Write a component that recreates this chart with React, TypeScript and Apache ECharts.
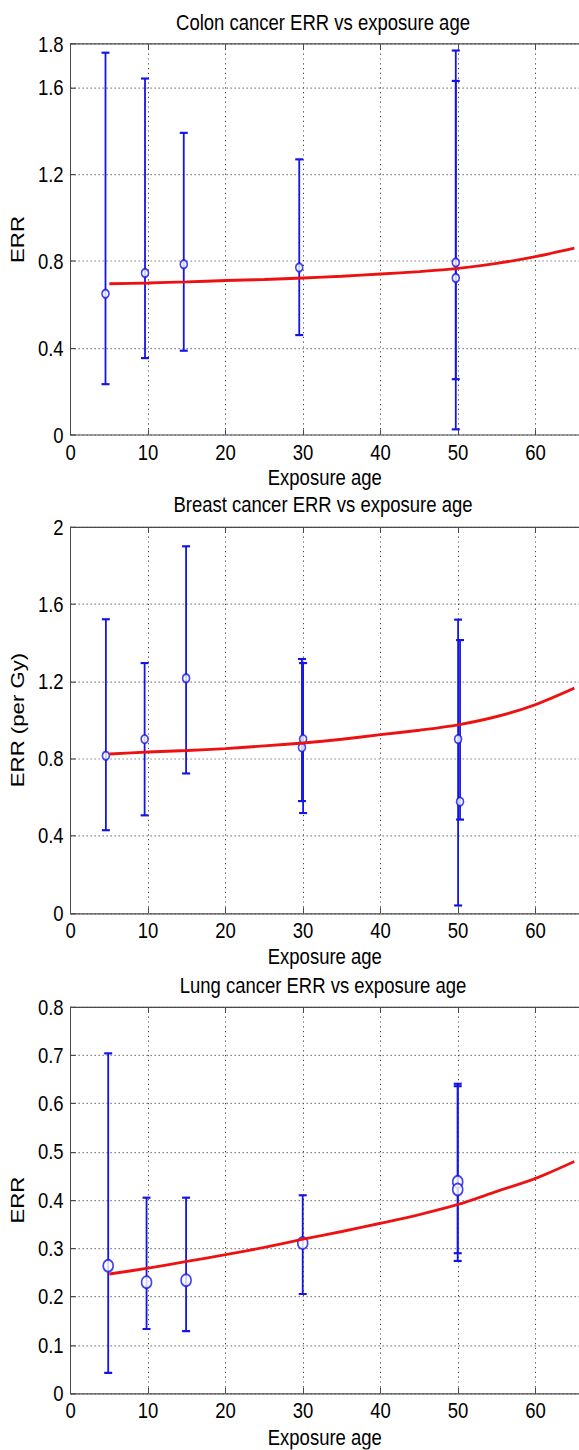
import React, { useEffect, useRef } from "react";
import * as echarts from "echarts";

// ---- Data ----
const fitAge = [5, 10, 15, 20, 25, 30, 35, 40, 45, 50, 55, 60, 65];

const colonAge = [4.5, 9.6, 14.6, 29.5, 49.7, 49.7];
const colonErr = [0.65, 0.746, 0.786, 0.771, 0.794, 0.723];
const colonLow = [0.234, 0.354, 0.388, 0.46, 0.257, 0.026];
const colonHigh = [1.76, 1.641, 1.391, 1.269, 1.63, 1.77];
const colonFit = [0.696, 0.7, 0.705, 0.711, 0.716, 0.723, 0.731, 0.741, 0.752, 0.767, 0.79, 0.821, 0.86];

const breastAge = [4.55, 9.55, 14.9, 29.85, 30.0, 50.0, 50.25];
const breastErr = [0.815, 0.901, 1.216, 0.858, 0.901, 0.901, 0.577];
const breastLow = [0.429, 0.506, 0.723, 0.58, 0.518, 0.039, 0.484];
const breastHigh = [1.522, 1.295, 1.9, 1.316, 1.295, 1.52, 1.414];
const breastFit = [0.824, 0.834, 0.842, 0.852, 0.866, 0.881, 0.9, 0.924, 0.947, 0.975, 1.018, 1.08, 1.165];

const lungAge = [4.85, 9.8, 14.9, 29.95, 49.95, 49.95];
const lungErr = [0.264, 0.23, 0.234, 0.311, 0.438, 0.422];
const lungLow = [0.042, 0.133, 0.1285, 0.2055, 0.29, 0.274];
const lungHigh = [0.704, 0.405, 0.405, 0.41, 0.641, 0.636];
const lungFit = [0.247, 0.259, 0.273, 0.287, 0.302, 0.319, 0.335, 0.352, 0.37, 0.391, 0.418, 0.445, 0.48];

const titles = [
  "Colon cancer ERR vs exposure age",
  "Breast cancer ERR vs exposure age",
  "Lung cancer ERR vs exposure age",
];
const yNames = ["ERR", "ERR (per Gy)", "ERR"];
const yMax = [1.8, 2, 0.8];
const yInterval = [0.4, 0.4, 0.1];
const xName = "Exposure age";

const FONT = "'Liberation Sans', Arial, Helvetica, sans-serif";
const BLUE = "#1414e6";
const RED = "#ee1111";
const AXIS = "#4a4a4a";

// the reference figure is stretched vertically; draw at 1/STRETCH height and scale with CSS
const STRETCH = 1.2;
const W = 579;
const H = 1450;
const s = (v: number) => v / STRETCH;

const panels = [
  { age: colonAge, err: colonErr, low: colonLow, high: colonHigh, fit: colonFit, top: 44, bottom: 435, titleCap: 13.5, nameGap: 25.5, sym: 7 },
  { age: breastAge, err: breastErr, low: breastLow, high: breastHigh, fit: breastFit, top: 527, bottom: 913, titleCap: 496, nameGap: 27, sym: 7 },
  { age: lungAge, err: lungErr, low: lungLow, high: lungHigh, fit: lungFit, top: 1007, bottom: 1394, titleCap: 977, nameGap: 27, sym: 10 },
];

function buildOption() {
  const grid: any[] = [];
  const xAxis: any[] = [];
  const yAxis: any[] = [];
  const series: any[] = [];
  const title: any[] = [];

  panels.forEach((p, i) => {
    grid.push({ left: 70, width: 510.4, top: s(p.top), height: s(p.bottom - p.top), containLabel: false });
    title.push({
      text: titles[i],
      left: 323,
      top: s(p.titleCap) - 2.5,
      textAlign: "center",
      padding: 0,
      textStyle: { fontSize: 18.5, fontWeight: "normal", color: "#000", fontFamily: FONT },
    });
    xAxis.push({
      gridIndex: i,
      type: "value",
      min: 0,
      max: 65.6,
      interval: 10,
      position: "bottom",
      name: xName,
      nameLocation: "middle",
      nameGap: p.nameGap,
      nameTextStyle: { fontSize: 18.5, color: "#000", fontFamily: FONT },
      axisLine: { show: true, onZero: false, lineStyle: { color: AXIS, width: 1 } },
      axisTick: { show: true, inside: true, length: 4.5, lineStyle: { color: AXIS } },
      axisLabel: { fontSize: 18.5, color: "#000", margin: 5, fontFamily: FONT, showMaxLabel: false },
      splitLine: { show: true, lineStyle: { type: [1, 3], color: "#444", width: 1 } },
    });
    xAxis.push({
      gridIndex: i,
      type: "value",
      min: 0,
      max: 65.6,
      interval: 10,
      position: "top",
      axisLine: { show: true, onZero: false, lineStyle: { color: AXIS, width: 1 } },
      axisTick: { show: true, inside: true, length: 4.5, lineStyle: { color: AXIS } },
      axisLabel: { show: false },
      splitLine: { show: false },
    });
    yAxis.push({
      gridIndex: i,
      type: "value",
      min: 0,
      max: yMax[i],
      interval: yInterval[i],
      position: "left",
      name: yNames[i],
      nameLocation: "middle",
      nameGap: 35,
      nameTextStyle: { fontSize: 18.5, color: "#000", fontFamily: FONT },
      axisLine: { show: true, onZero: false, lineStyle: { color: AXIS, width: 1 } },
      axisTick: { show: true, inside: true, length: 5, lineStyle: { color: AXIS } },
      axisLabel: { fontSize: 18.5, color: "#000", margin: 7, fontFamily: FONT },
      splitLine: { show: true, lineStyle: { type: [1, 3], color: "#444", width: 1 } },
    });

    const barData = p.age.map((a, k) => [a, p.low[k], p.high[k]]);
    series.push({
      type: "custom",
      xAxisIndex: i * 2,
      yAxisIndex: i,
      z: 2,
      data: barData,
      encode: { x: 0, y: [1, 2] },
      renderItem: (params: any, api: any) => {
        const x = api.value(0);
        const lo = api.coord([x, api.value(1)]);
        const hi = api.coord([x, api.value(2)]);
        const hw = 4;
        const style = { stroke: BLUE, lineWidth: 1.8, fill: null };
        return {
          type: "group",
          children: [
            { type: "line", shape: { x1: lo[0], y1: lo[1], x2: hi[0], y2: hi[1] }, style },
            { type: "line", shape: { x1: lo[0] - hw, y1: lo[1], x2: lo[0] + hw, y2: lo[1] }, style },
            { type: "line", shape: { x1: hi[0] - hw, y1: hi[1], x2: hi[0] + hw, y2: hi[1] }, style },
          ],
        };
      },
    });
    series.push({
      type: "scatter",
      xAxisIndex: i * 2,
      yAxisIndex: i,
      z: 3,
      symbol: "circle",
      symbolSize: p.sym,
      itemStyle: { color: "#fff", borderColor: BLUE, borderWidth: 1.6 },
      data: p.age.map((a, k) => [a, p.err[k]]),
    });
    series.push({
      type: "line",
      xAxisIndex: i * 2,
      yAxisIndex: i,
      z: 4,
      smooth: 0.3,
      showSymbol: false,
      lineStyle: { color: RED, width: 2.4 },
      data: fitAge.map((a, k) => [a, p.fit[k]]),
    });
  });

  return {
    animation: false,
    backgroundColor: "#fff",
    title,
    grid,
    xAxis,
    yAxis,
    series,
  };
}

export default function App() {
  const ref = useRef<HTMLDivElement>(null);
  useEffect(() => {
    document.body.style.margin = "0";
    document.documentElement.style.overflow = "hidden";
    if (!ref.current) return;
    const chart = echarts.init(ref.current, undefined, { renderer: "svg" });
    chart.setOption(buildOption());
    return () => chart.dispose();
  }, []);
  return (
    <div style={{ width: W, height: H, overflow: "hidden", background: "#fff" }}>
      <div
        ref={ref}
        style={{
          width: W,
          height: H / STRETCH,
          transform: `scaleY(${STRETCH})`,
          transformOrigin: "0 0",
        }}
      />
    </div>
  );
}
